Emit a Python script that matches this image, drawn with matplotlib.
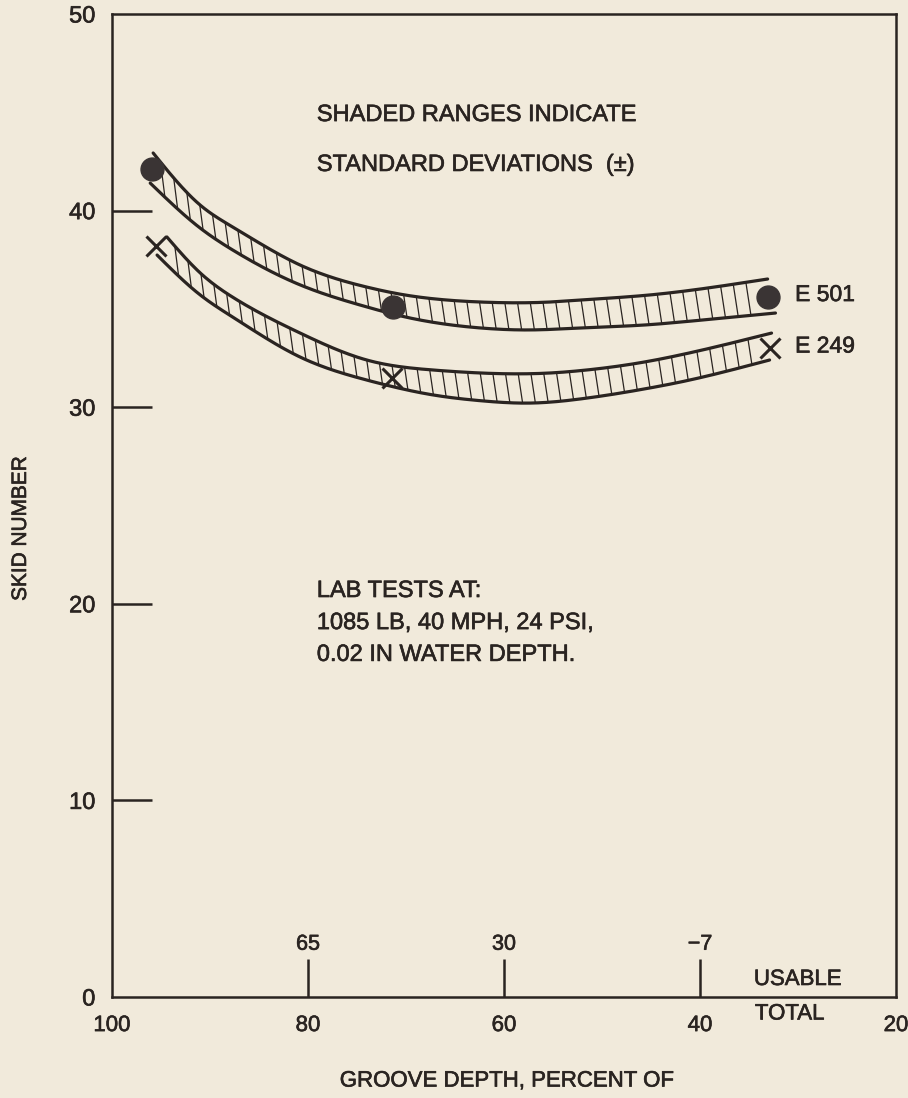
import numpy as np
import matplotlib
matplotlib.use("Agg")
import matplotlib.pyplot as plt
import matplotlib.transforms as mtransforms
import matplotlib.patheffects as pe
from matplotlib.collections import LineCollection

# ---------------- data ----------------
x_ticks = [100, 80, 60, 40, 20]
x_tick_labels = ["100", "80", "60", "40", "20"]
usable_ticks = [80, 60, 40]
usable_labels = ["65", "30", "\u22127"]
y_ticks = [0, 10, 20, 30, 40, 50]

# E 501 band (upper / lower edge of +- standard deviation)
e501_up_x = [95.8, 91.0, 87.7, 80.8, 74.0, 70.6, 62.4, 55.3, 52.2, 45.1, 42.0, 33.1]
e501_up_y = [42.93, 40.28, 39.17, 37.23, 36.11, 35.75, 35.35, 35.35, 35.45, 35.71, 35.88, 36.52]
e501_lo_x = [96.1, 91.0, 87.7, 80.8, 74.0, 70.6, 62.4, 57.3, 52.2, 45.1, 42.0, 32.3]
e501_lo_y = [41.40, 39.11, 38.00, 36.22, 35.10, 34.65, 34.03, 33.93, 34.03, 34.20, 34.33, 34.79]
e501_pts_x = [95.9, 71.3, 33.1]
e501_pts_y = [42.1, 35.1, 35.6]

# E 249 band
e249_up_x = [94.4, 91.0, 87.7, 80.8, 74.0, 67.2, 62.4, 55.3, 52.2, 45.1, 42.0, 32.7]
e249_up_y = [38.66, 36.83, 35.60, 33.77, 32.40, 31.89, 31.74, 31.74, 31.86, 32.35, 32.66, 33.77]
e249_lo_x = [95.4, 91.0, 87.7, 80.8, 74.0, 67.2, 62.4, 57.3, 52.2, 45.1, 42.0, 32.9]
e249_lo_y = [37.74, 35.71, 34.59, 32.55, 31.38, 30.62, 30.33, 30.21, 30.42, 30.98, 31.28, 32.40]
e249_pts_x = [95.5, 71.4, 32.9]
e249_pts_y = [38.2, 31.5, 33.0]

# ---------------- style ----------------
BG = "#f1eadb"
INK = "#2a2421"
plt.rcParams["font.family"] = ["Liberation Sans", "DejaVu Sans"]
BOLDEN = [pe.withStroke(linewidth=0.45, foreground=INK)]

fig = plt.figure(figsize=(9.08, 10.98), dpi=100, facecolor=BG)
ax = fig.add_axes([112 / 908, 1 - 997 / 1098, 784 / 908, 983 / 1098])
ax.set_facecolor(BG)
ax.set_xlim(100, 20)
ax.set_ylim(0, 50)

for s in ax.spines.values():
    s.set_linewidth(1.8)
    s.set_color(INK)

ax.set_xticks(x_ticks)
ax.set_xticklabels(x_tick_labels)
ax.set_yticks(y_ticks)
ax.tick_params(axis="x", direction="in", length=27.4, width=1.8, pad=13,
               labelsize=16, colors=INK)
ax.tick_params(axis="y", direction="in", length=28.8, width=1.8, pad=12,
               labelsize=17, colors=INK)
for t in (ax.xaxis.get_major_ticks()[0], ax.xaxis.get_major_ticks()[-1]):
    t.tick1line.set_visible(False)
for t in (ax.yaxis.get_major_ticks()[0], ax.yaxis.get_major_ticks()[-1]):
    t.tick1line.set_visible(False)
for lab in ax.get_xticklabels() + ax.get_yticklabels():
    lab.set_path_effects(BOLDEN)

# pixels per data unit ratio (y / x), for hatch tilt
p0 = ax.transData.transform((100, 0))
p1 = ax.transData.transform((20, 50))
ppx = abs(p1[0] - p0[0]) / 80.0
ppy = abs(p1[1] - p0[1]) / 50.0


def smooth(xs, ys, n=300):
    """Natural cubic spline through the read points (drawing aid only)."""
    x = np.asarray(xs, float)[::-1]
    y = np.asarray(ys, float)[::-1]
    m = len(x)
    h = np.diff(x)
    A = np.zeros((m, m))
    b = np.zeros(m)
    A[0, 0] = A[-1, -1] = 1.0
    for i in range(1, m - 1):
        A[i, i - 1] = h[i - 1]
        A[i, i] = 2 * (h[i - 1] + h[i])
        A[i, i + 1] = h[i]
        b[i] = 6 * ((y[i + 1] - y[i]) / h[i] - (y[i] - y[i - 1]) / h[i - 1])
    M = np.linalg.solve(A, b)
    xx = np.linspace(x[0], x[-1], n)
    k = np.clip(np.searchsorted(x, xx) - 1, 0, m - 2)
    t0 = x[k + 1] - xx
    t1 = xx - x[k]
    hk = h[k]
    yy = (M[k] * t0 ** 3 + M[k + 1] * t1 ** 3) / (6 * hk) \
        + (y[k] / hk - M[k] * hk / 6) * t0 + (y[k + 1] / hk - M[k + 1] * hk / 6) * t1
    return xx, yy


def draw_band(xu, yu, xl, yl, step=1.3, tilt=0.15):
    ux, uy = smooth(xu, yu)
    lx, ly = smooth(xl, yl)
    ax.plot(ux, uy, color=INK, lw=2.3, solid_capstyle="round", zorder=3)
    ax.plot(lx, ly, color=INK, lw=2.3, solid_capstyle="round", zorder=3)
    lo = max(ux.min(), lx.min())
    hi = min(ux.max(), lx.max())
    segs = []
    for xb in np.arange(hi - 1.2, lo + 0.8, -step):
        yb = np.interp(xb, lx, ly)
        h = np.interp(xb, ux, uy) - yb
        xt = xb + tilt * h * ppy / ppx
        if xt > hi:
            continue
        yt = np.interp(xt, ux, uy)
        segs.append([(xb, yb), (xt, yt)])
    ax.add_collection(LineCollection(segs, colors=INK, linewidths=0.9, zorder=2))


draw_band(e501_up_x, e501_up_y, e501_lo_x, e501_lo_y)
draw_band(e249_up_x, e249_up_y, e249_lo_x, e249_lo_y)

ax.plot(e501_pts_x, e501_pts_y, "o", ms=16.5, color="#3a3434", mec="#3a3434", zorder=4)
ax.plot(e249_pts_x, e249_pts_y, "x", ms=15, mew=2.2, color=INK, zorder=4)

def txt(x, y, s, size=17, **kw):
    kw.setdefault("va", "center")
    kw.setdefault("ha", "left")
    t = ax.text(x, y, s, fontsize=size, color=INK, **kw)
    t.set_path_effects(BOLDEN)
    return t

# series labels
txt(30.3, 35.73, "E 501", 16.5)
txt(30.3, 33.11, "E 249", 16.5)

# annotations
txt(79.1, 44.86, "SHADED RANGES INDICATE")
txt(79.1, 42.32, "STANDARD DEVIATIONS  (\u00b1)")
txt(79.1, 20.65, "LAB TESTS AT:")
txt(79.1, 19.02, "1085 LB, 40 MPH, 24 PSI,")
txt(79.1, 17.40, "0.02 IN WATER DEPTH.")

# usable groove depth scale (inside the axes)
blend = mtransforms.blended_transform_factory(ax.transData, ax.transAxes)
for xv, lab in zip(usable_ticks, usable_labels):
    txt(xv, 0.043, lab, 15.5, transform=blend, ha="center", va="bottom")
txt(34.5, 0.0178, "USABLE", 16, transform=blend)
txt(34.4, -0.0173, "TOTAL", 16, transform=blend)

ax.set_xlabel("GROOVE DEPTH, PERCENT OF", fontsize=16, color=INK)
ax.xaxis.set_label_coords(0.504, -0.0855)
ax.xaxis.label.set_va("center")
ax.xaxis.label.set_path_effects(BOLDEN)
ax.set_ylabel("SKID NUMBER", fontsize=15, color=INK)
ax.yaxis.set_label_coords(-0.1167, 0.477)
ax.yaxis.label.set_va("center")
ax.yaxis.label.set_path_effects(BOLDEN)

fig.savefig("out.png", dpi=100, facecolor=BG)
